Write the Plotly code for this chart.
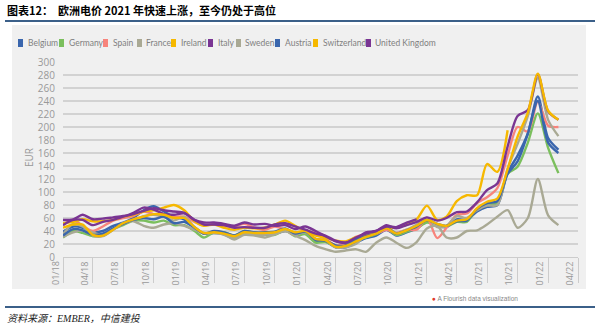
import pandas as pd
import plotly.graph_objects as go

# ---------------- data ----------------
months = pd.date_range("2018-01-01", "2022-02-01", freq="MS")

belgium = [39, 47, 45, 38, 40, 48, 53, 60, 72, 78, 70, 62,
           58, 46, 36, 37, 36, 28, 36, 34, 34, 36, 40, 37,
           36, 25, 24, 15, 15, 22, 29, 33, 42, 33, 38, 44,
           55, 48, 46, 58, 57, 70, 77, 80, 130, 156, 190, 247,
           183, 165]
germany = [30, 40, 37, 32, 34, 43, 49, 56, 56, 53, 56, 49,
           49, 40, 30, 38, 38, 33, 40, 37, 35, 34, 41, 32,
           35, 22, 23, 17, 18, 26, 30, 35, 43, 34, 39, 44,
           53, 49, 47, 54, 54, 74, 81, 83, 128, 139, 176, 221,
           168, 129]
spain = [50, 57, 48, 40, 47, 56, 60, 63, 70, 66, 62, 62,
         62, 54, 49, 50, 48, 47, 51, 45, 42, 47, 42, 34,
         41, 36, 28, 18, 21, 31, 35, 36, 42, 37, 42, 42,
         60, 29, 45, 65, 67, 83, 92, 106, 156, 200, 193, 239,
         202, 200]
france = [35, 51, 47, 33, 32, 42, 51, 57, 63, 65, 62, 56,
          62, 46, 36, 38, 34, 29, 37, 34, 34, 36, 40, 35,
          38, 28, 26, 15, 15, 20, 33, 36, 46, 37, 42, 50,
          60, 46, 48, 63, 60, 72, 79, 80, 136, 174, 217, 275,
          211, 186]
ireland = [52, 54, 58, 55, 55, 57, 62, 65, 70, 72, 76, 80,
           72, 55, 48, 50, 45, 42, 45, 44, 45, 50, 56, 48,
           40, 33, 30, 25, 24, 30, 33, 37, 45, 45, 52, 58,
           79, 57, 62, 86, 95, 95, 143, 131, 195, None, None, None,
           None, None]
italy = [49, 57, 57, 49, 54, 57, 62, 68, 76, 73, 66, 65,
         67, 57, 53, 53, 51, 48, 53, 50, 51, 48, 49, 43,
         47, 40, 32, 24, 22, 28, 38, 40, 49, 44, 49, 54,
         61, 56, 60, 69, 70, 84, 103, 113, 170, 217, 226, 281,
         224, 211]
sweden = [31, 38, 41, 38, 33, 42, 52, 55, 48, 45, 50, 52,
          48, 42, 37, 37, 35, 27, 34, 33, 30, 35, 40, 33,
          26, 17, 12, 8, 10, 12, 8, 22, 30, 22, 14, 23,
          44, 48, 30, 30, 40, 41, 50, 62, 72, 45, 60, 120,
          64, 49]
austria = [33, 43, 41, 34, 36, 44, 51, 57, 60, 58, 62, 52,
           54, 45, 36, 40, 38, 33, 40, 38, 38, 39, 44, 36,
           39, 27, 25, 18, 18, 27, 32, 36, 45, 36, 41, 47,
           57, 51, 48, 55, 56, 74, 83, 86, 128, 147, 190, 240,
           176, 160]
switzerland = [45, 50, 50, 34, 33, 42, 52, 58, 62, 66, 65, 60,
               60, 46, 37, 38, 36, 32, 38, 37, 37, 38, 43, 38,
               40, 28, 26, 16, 17, 24, 31, 36, 44, 36, 41, 48,
               57, 51, 48, 56, 58, 75, 85, 90, 135, 185, 222, 282,
               225, 211]
uk = [57, 58, 65, 58, 59, 61, 63, 66, 71, 75, 72, 70,
      68, 57, 50, 50, 49, 45, 46, 45, 45, 50, 52, 47,
      42, 36, 33, 25, 22, 30, 36, 40, 47, 46, 53, 58,
      None, None, None, None, None, None, None, None, None, None, None, None,
      None, None]

names = ["Belgium", "Germany", "Spain", "France", "Ireland", "Italy",
         "Sweden", "Austria", "Switzerland", "United Kingdom"]
values = [belgium, germany, spain, france, ireland, italy,
          sweden, austria, switzerland, uk]

BLUE, GREEN, SALMON, GREY, YELLOW, PURPLE = (
    "#3a66ad", "#7bbf5d", "#f7847c", "#a9a994", "#f6b800", "#7a3593")
colors = [BLUE, GREEN, SALMON, GREY, YELLOW, PURPLE, GREY, BLUE, YELLOW, PURPLE]

tick_dates = pd.date_range("2018-01-01", "2022-04-01", freq="QS")
tick_text = [d.strftime("%m/%y") for d in tick_dates]

# ---------------- figure ----------------
fig = go.Figure()
for n, v, c in zip(names, values, colors):
    fig.add_trace(go.Scatter(
        x=months, y=v, name=n, mode="lines", showlegend=False,
        line=dict(color=c, width=2.4, shape="spline", smoothing=0.8),
        connectgaps=False))

W, H = 600, 327
L, R, T, B = 63, 22, 62, 70
pw, ph = W - L - R, H - T - B


def px(x):
    return (x - L) / pw


def py(y):
    return (H - B - y) / ph


shapes = [
    dict(type="rect", xref="paper", yref="paper", layer="below",
         x0=px(12), x1=px(586), y0=py(289), y1=py(25),
         fillcolor="#f0f0f0", line=dict(width=0)),
    dict(type="line", xref="paper", yref="paper",
         x0=px(5), x1=px(595), y0=py(21), y1=py(21),
         line=dict(color="#3b6089", width=2)),
    dict(type="line", xref="paper", yref="paper",
         x0=px(5), x1=px(595), y0=py(307), y1=py(307),
         line=dict(color="#3b6089", width=2)),
]

legend_sq_x = [18, 59, 103, 137, 171, 208, 236, 275, 313, 366]
legend_tx_x = [26, 67, 111, 144, 179, 216, 243, 283, 321, 373]
for sx, c in zip(legend_sq_x, colors):
    shapes.append(dict(type="rect", xref="paper", yref="paper",
                       x0=px(sx), x1=px(sx + 5), y0=py(47), y1=py(39),
                       fillcolor=c, line=dict(width=0)))

tickfont = dict(family="Open Sans", size=9, color="#999999")

annotations = [
    dict(text="<b>图表12：  欧洲电价 2021 年快速上涨，至今仍处于高位</b>",
         xref="paper", yref="paper", x=px(5), y=py(10),
         xanchor="left", yanchor="middle", showarrow=False,
         font=dict(family="Noto Sans CJK SC", size=11, color="#000000")),
    dict(text="资料来源：EMBER，中信建投",
         xref="paper", yref="paper", x=px(5), y=py(318),
         xanchor="left", yanchor="middle", showarrow=False,
         font=dict(family="Liberation Serif, Noto Sans CJK SC", size=10,
                   color="#222222", style="italic")),
    dict(text="<span style='color:#e0392b'>●</span> A Flourish data visualization",
         xref="paper", yref="paper", x=px(430), y=py(298),
         xanchor="left", yanchor="middle", showarrow=False,
         font=dict(family="Liberation Sans", size=6.5, color="#888888")),
    dict(text="EUR", xref="paper", yref="paper", x=px(29), y=py(158),
         xanchor="center", yanchor="middle", showarrow=False, textangle=-90,
         font=dict(family="Open Sans", size=10, color="#999999")),
    # first x tick label (placed beside its tick like the others)
    dict(text=tick_text[0], xref="x", yref="paper", x=tick_dates[0],
         y=py(259), xshift=-8, xanchor="center", yanchor="top",
         showarrow=False, textangle=-90, font=tickfont),
]
for tx, n in zip(legend_tx_x, names):
    annotations.append(dict(text=n, xref="paper", yref="paper",
                            x=px(tx), y=py(43), xanchor="left", yanchor="middle",
                            showarrow=False,
                            font=dict(family="Lato", size=8.5, color="#808080")))

axis_text = [""] + tick_text[1:]

fig.update_layout(
    width=W, height=H,
    margin=dict(l=L, r=R, t=T, b=B),
    paper_bgcolor="white", plot_bgcolor="rgba(0,0,0,0)",
    shapes=shapes, annotations=annotations,
    xaxis=dict(type="date", range=["2018-01-01", "2022-04-01"],
               tickvals=tick_dates, ticktext=axis_text,
               ticks="outside", ticklen=25, tickcolor="#cccccc", tickwidth=1,
               tickangle=-90, ticklabelshift=-8, ticklabelstandoff=-25,
               showgrid=False, showline=True, linecolor="#cccccc", linewidth=1,
               zeroline=False, tickfont=tickfont),
    yaxis=dict(range=[0, 300], dtick=20, showgrid=True,
               gridcolor="#d2d2d2", gridwidth=1.5, zeroline=False,
               showline=False, ticks="outside", ticklen=5,
               tickcolor="rgba(0,0,0,0)",
               tickfont=dict(family="Open Sans", size=10, color="#999999")),
)

fig.write_html("out.html")
